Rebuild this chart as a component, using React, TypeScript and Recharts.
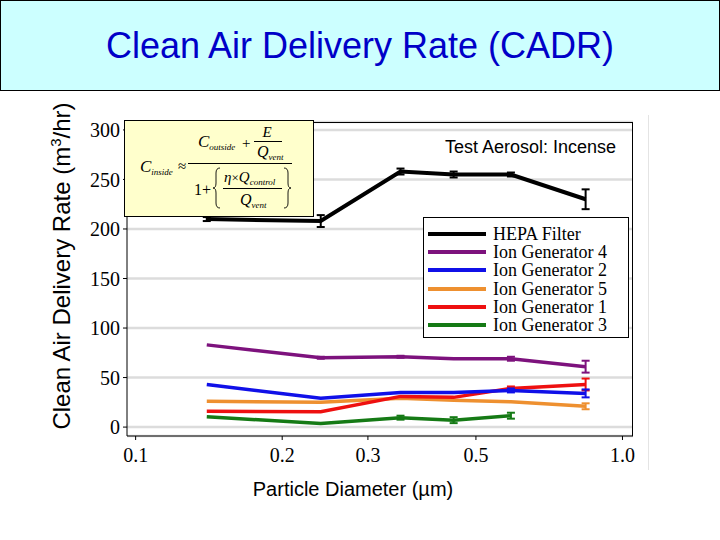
import { CartesianGrid, ErrorBar, Line, LineChart, XAxis, YAxis } from "recharts";

// particle diameter (µm) of each measurement
const diameters = [0.14, 0.24, 0.35, 0.45, 0.59, 0.84];

// CADR values (m3/hr) and error half-widths, 0 = no error bar drawn
const hepa = [210, 208, 258, 255, 255, 230];
const hepaErr = [2, 6, 3, 3, 2, 10];
const ion4 = [83, 70, 71, 69, 69, 61];
const ion4Err = [0, 1, 1, 0, 2, 6];
const ion2 = [43, 29, 35, 35, 37, 34];
const ion2Err = [0, 0, 0, 0, 2, 4];
const ion5 = [26, 25, 29, 27, 25.5, 21];
const ion5Err = [0, 0, 0, 0, 0, 3];
const ion1 = [16, 15.5, 31, 30, 39, 43];
const ion1Err = [0, 0, 0, 0, 2, 6];
const ion3 = [10.5, 3.5, 9.5, 7, 11.5, null];
const ion3Err = [0, 0, 2, 3, 3, 0];

const xTicks = [0.1, 0.2, 0.3, 0.5, 1.0];
const yTicks = [0, 50, 100, 150, 200, 250, 300];

const seriesKeys = ["hepa", "ion4", "ion2", "ion5", "ion1", "ion3"];
const seriesNames = [
  "HEPA Filter",
  "Ion Generator 4",
  "Ion Generator 2",
  "Ion Generator 5",
  "Ion Generator 1",
  "Ion Generator 3",
];
const seriesColors = ["#000000", "#7d127d", "#1010e8", "#ee9030", "#ee1010", "#157a15"];

const values = [hepa, ion4, ion2, ion5, ion1, ion3];
const errors = [hepaErr, ion4Err, ion2Err, ion5Err, ion1Err, ion3Err];

const data = diameters.map((d, i) => {
  const row: Record<string, number | null> = { d };
  seriesKeys.forEach((k, s) => {
    row[k] = values[s][i];
    row[k + "Err"] = errors[s][i];
  });
  return row;
});

const SANS = "'Liberation Sans', Arial, sans-serif";
const SERIF = "'Liberation Serif', 'Times New Roman', serif";

// draw order on the plot (back to front)
const drawOrder = [3, 5, 4, 2, 1, 0];

const Formula = () => (
  <svg
    width={190}
    height={97}
    style={{ position: "absolute", left: 124, top: 120 }}
    fontFamily={SERIF}
    fontStyle="italic"
  >
    <rect x={0.5} y={0.5} width={189} height={96} fill="#ffffcc" stroke="#000" />
    {/* left side */}
    <text x={16} y={52} fontSize={17}>
      C<tspan fontSize={9} dy={3}>inside</tspan>
    </text>
    <text x={54} y={51} fontSize={15} fontStyle="normal">≈</text>
    <line x1={64} x2={168} y1={43.5} y2={43.5} stroke="#000" />
    {/* numerator */}
    <text x={74} y={27} fontSize={17}>
      C<tspan fontSize={9} dy={3}>outside</tspan>
    </text>
    <text x={118} y={28} fontSize={15} fontStyle="normal">+</text>
    <text x={143} y={17} fontSize={15} textAnchor="middle">E</text>
    <line x1={130} x2={158} y1={21.5} y2={21.5} stroke="#000" />
    <text x={133} y={37} fontSize={16}>
      Q<tspan fontSize={9} dy={3}>vent</tspan>
    </text>
    {/* denominator */}
    <text x={70} y={75} fontSize={16} fontStyle="normal">1+</text>
    <path
      d="M96 48 Q92 48 92 53 L92 63 Q92 68 89 68 Q92 68 92 73 L92 83 Q92 88 96 88"
      fill="none"
      stroke="#000"
      strokeWidth={0.9}
    />
    <text x={100} y={62} fontSize={15}>
      η<tspan fontStyle="normal" fontSize={13}>×</tspan>Q<tspan fontSize={9} dy={3}>control</tspan>
    </text>
    <line x1={99} x2={158} y1={68.5} y2={68.5} stroke="#000" />
    <text x={116} y={85} fontSize={16}>
      Q<tspan fontSize={9} dy={3}>vent</tspan>
    </text>
    <path
      d="M160 48 Q164 48 164 53 L164 63 Q164 68 167 68 Q164 68 164 73 L164 83 Q164 88 160 88"
      fill="none"
      stroke="#000"
      strokeWidth={0.9}
    />
  </svg>
);

const LegendBox = () => (
  <div
    style={{
      position: "absolute",
      left: 423,
      top: 217,
      width: 206,
      height: 121,
      boxSizing: "border-box",
      border: "1px solid #000",
      background: "#fff",
      paddingTop: 7,
    }}
  >
    {seriesNames.map((name, i) => (
      <div key={name} style={{ display: "flex", alignItems: "center", height: 18.2 }}>
        <div style={{ marginLeft: 4, width: 58, height: 4, background: seriesColors[i] }} />
        <span style={{ marginLeft: 7, fontFamily: SERIF, fontSize: 18, lineHeight: "18px" }}>{name}</span>
      </div>
    ))}
  </div>
);

export default function App() {
  return (
    <div style={{ position: "relative", width: 720, height: 540, background: "#fff" }}>
      <style>{"body{margin:0}"}</style>
      <div
        style={{
          position: "absolute",
          left: 0,
          top: 0,
          width: 720,
          height: 91,
          boxSizing: "border-box",
          border: "1px solid #000",
          background: "#ccffff",
          color: "#0000c8",
          fontFamily: SANS,
          fontSize: 36,
          textAlign: "center",
          lineHeight: "89px",
        }}
      >
        Clean Air Delivery Rate (CADR)
      </div>
      <div style={{ position: "absolute", left: 648, top: 115, width: 1, height: 355, background: "#e4e4e4" }} />
      <LineChart
        width={720}
        height={540}
        data={data}
        margin={{ top: 122, right: 87, bottom: 74, left: 67 }}
        style={{ position: "absolute", left: 0, top: 0 }}
      >
        <CartesianGrid vertical={false} stroke="#dcdcdc" strokeWidth={2.5} />
        <XAxis
          dataKey="d"
          type="number"
          scale="log"
          domain={[0.096, 1.051]}
          allowDataOverflow
          ticks={xTicks}
          tickFormatter={(v: number) => v.toFixed(1)}
          height={30}
          tickSize={4}
          tickMargin={8}
          stroke="#000"
          tick={{ fill: "#000", fontSize: 20, fontFamily: SERIF }}
          interval={0}
        />
        <YAxis
          type="number"
          domain={[-9, 308]}
          allowDataOverflow
          ticks={yTicks}
          width={60}
          tickSize={4}
          tickMargin={3}
          stroke="#000"
          tick={{ fill: "#000", fontSize: 20, fontFamily: SERIF }}
          interval={0}
        />
        {drawOrder.map((s) => (
          <Line
            key={seriesKeys[s]}
            dataKey={seriesKeys[s]}
            name={seriesNames[s]}
            stroke={seriesColors[s]}
            strokeWidth={s === 0 ? 4 : 3.5}
            dot={false}
            isAnimationActive={false}
          >
            <ErrorBar
              dataKey={seriesKeys[s] + "Err"}
              width={4}
              strokeWidth={2}
              stroke={seriesColors[s]}
              isAnimationActive={false}
            />
          </Line>
        ))}
      </LineChart>
      <div
        style={{
          position: "absolute",
          left: 127,
          top: 122,
          width: 506,
          height: 314,
          boxSizing: "border-box",
          borderTop: "1px solid #000",
          borderRight: "1px solid #000",
          pointerEvents: "none",
        }}
      />
      <Formula />
      <LegendBox />
      <div
        style={{
          position: "absolute",
          left: 445,
          top: 137,
          fontFamily: SANS,
          fontSize: 18,
          whiteSpace: "nowrap",
        }}
      >
        Test Aerosol: Incense
      </div>
      <div
        style={{
          position: "absolute",
          left: 61,
          top: 266,
          transform: "translate(-50%, -50%) rotate(-90deg)",
          fontFamily: SANS,
          fontSize: 24,
          whiteSpace: "nowrap",
        }}
      >
        Clean Air Delivery Rate (m<sup style={{ fontSize: 15 }}>3</sup>/hr)
      </div>
      <div
        style={{
          position: "absolute",
          left: 353,
          top: 489,
          transform: "translate(-50%, -50%)",
          fontFamily: SANS,
          fontSize: 20,
          whiteSpace: "nowrap",
        }}
      >
        Particle Diameter (µm)
      </div>
    </div>
  );
}
